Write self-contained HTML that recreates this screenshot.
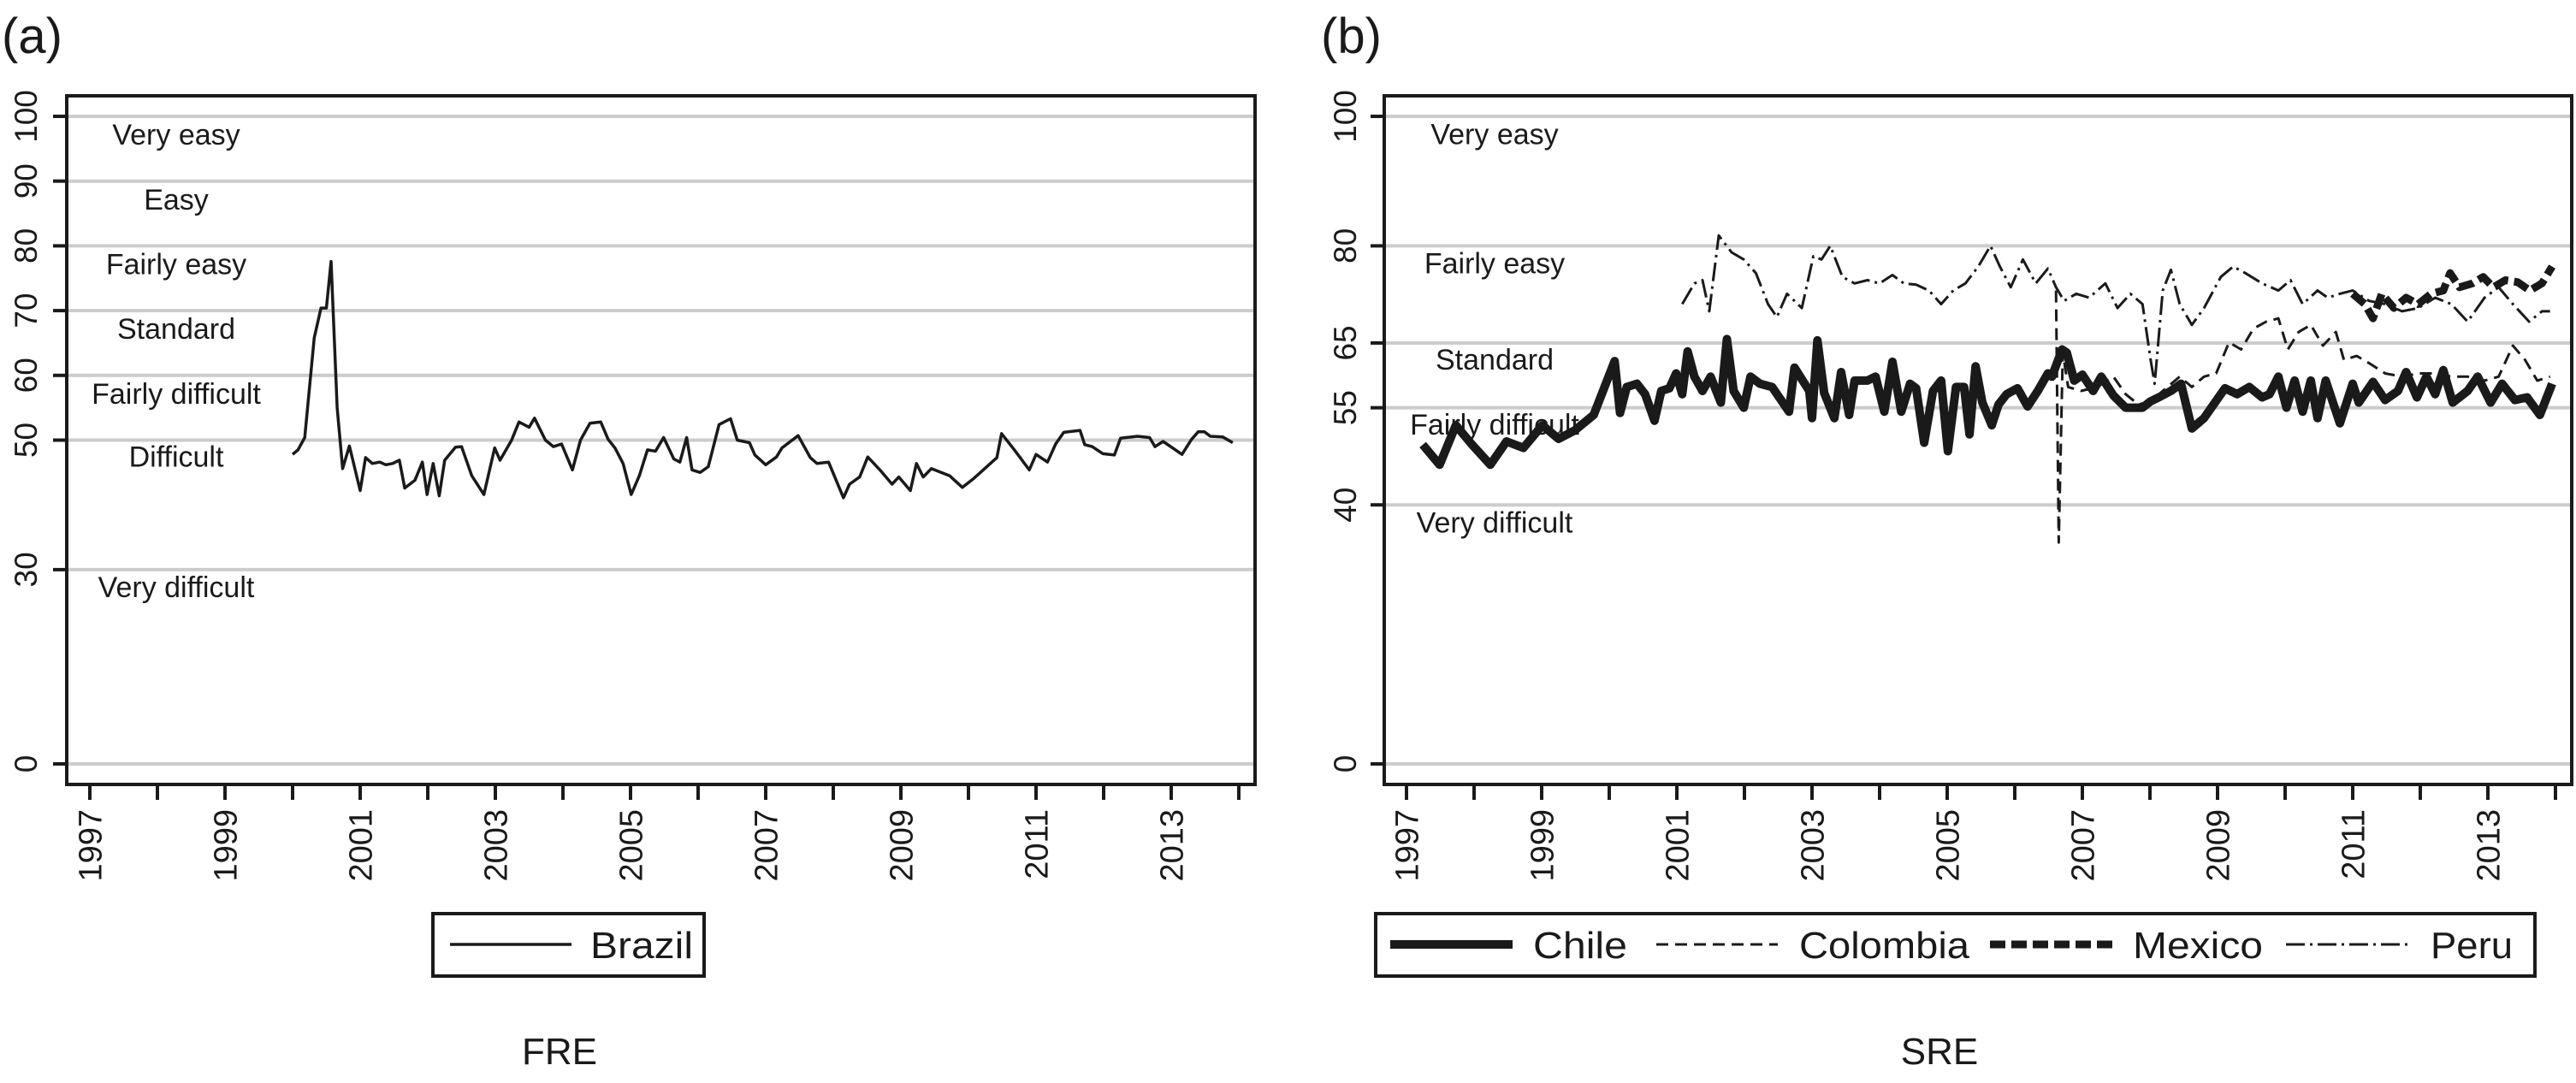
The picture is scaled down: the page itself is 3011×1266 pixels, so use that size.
<!DOCTYPE html>
<html><head><meta charset="utf-8"><style>
html,body{margin:0;padding:0;background:#fff;}
svg{display:block;font-family:"Liberation Sans",Arial,sans-serif;}
</style></head><body>
<svg id="chart" width="3011" height="1266" viewBox="0 0 3011 1266" xmlns="http://www.w3.org/2000/svg"></svg>
<script>
// ---- data ----
const brazilYears = [2000.00,2000.08,2000.18,2000.32,2000.42,2000.50,2000.57,2000.66,2000.74,2000.84,2001.00,2001.08,2001.18,2001.29,2001.38,2001.48,2001.58,2001.66,2001.81,2001.92,2001.99,2002.08,2002.17,2002.25,2002.41,2002.50,2002.65,2002.83,2002.99,2003.07,2003.24,2003.35,2003.50,2003.58,2003.74,2003.86,2003.98,2004.14,2004.26,2004.40,2004.56,2004.67,2004.77,2004.89,2005.01,2005.13,2005.25,2005.37,2005.49,2005.64,2005.73,2005.83,2005.91,2006.03,2006.15,2006.31,2006.48,2006.58,2006.76,2006.84,2007.00,2007.16,2007.24,2007.48,2007.66,2007.76,2007.93,2008.15,2008.24,2008.39,2008.51,2008.69,2008.87,2008.97,2009.14,2009.23,2009.33,2009.45,2009.72,2009.91,2010.08,2010.42,2010.49,2010.68,2010.90,2011.00,2011.17,2011.29,2011.41,2011.65,2011.72,2011.83,2011.99,2012.16,2012.25,2012.50,2012.68,2012.76,2012.88,2013.16,2013.30,2013.40,2013.49,2013.58,2013.76,2013.91];
const brazilValues = [47.8,48.5,50.4,65.8,70.4,70.4,77.6,55,45.6,49.1,42.2,47.3,46.4,46.6,46.2,46.4,46.9,42.6,43.8,46.6,41.6,46.4,41.4,46.9,48.9,49,44.5,41.6,48.8,46.9,50,52.8,52,53.4,50,49,49.4,45.4,50,52.6,52.8,50.1,48.8,46.4,41.6,44.5,48.5,48.3,50.4,47.1,46.6,50.4,45.4,45,45.9,52.4,53.3,50,49.6,47.7,46.2,47.4,48.8,50.7,47.3,46.4,46.6,41.1,43.2,44.3,47.4,45.4,43.2,44.3,42.2,46.4,44.3,45.6,44.5,42.7,44.1,47.3,51,48.5,45.4,47.8,46.6,49.4,51.2,51.5,49.3,49,47.9,47.7,50.3,50.6,50.4,49,49.8,47.8,50.1,51.3,51.3,50.6,50.5,49.6];

const chileYears = [1997.24,1997.49,1997.73,1997.97,1998.24,1998.48,1998.73,1999.01,1999.25,1999.49,1999.77,2000.08,2000.16,2000.26,2000.41,2000.53,2000.67,2000.77,2000.89,2000.99,2001.08,2001.16,2001.26,2001.38,2001.50,2001.65,2001.74,2001.84,2001.99,2002.09,2002.23,2002.41,2002.66,2002.74,2002.96,2003.00,2003.08,2003.18,2003.33,2003.43,2003.55,2003.63,2003.82,2003.94,2004.07,2004.19,2004.32,2004.45,2004.54,2004.66,2004.79,2004.91,2005.01,2005.13,2005.25,2005.33,2005.42,2005.52,2005.66,2005.76,2005.88,2006.04,2006.19,2006.34,2006.49,2006.55,2006.70,2006.77,2006.88,2007.00,2007.16,2007.28,2007.46,2007.64,2007.89,2008.01,2008.13,2008.31,2008.46,2008.62,2008.80,2009.11,2009.29,2009.47,2009.66,2009.77,2009.90,2010.02,2010.14,2010.26,2010.38,2010.48,2010.60,2010.81,2011.00,2011.09,2011.30,2011.48,2011.67,2011.79,2011.95,2012.09,2012.22,2012.34,2012.48,2012.70,2012.85,2013.04,2013.21,2013.40,2013.58,2013.77,2013.95];
const chileValues = [49.3,46.2,52.3,49.3,46.2,49.8,48.8,52.3,50.2,51.5,53.9,62.2,54.2,58.2,58.7,57.1,53,57.6,58,60.3,57.1,63.7,59.8,57.6,59.8,55.8,65.6,57.6,55,59.8,58.7,58.2,54.4,61.2,57.6,53.4,65.4,57.3,53.4,60.5,53.9,59.2,59.2,59.8,54.4,62.1,54.4,58.7,58,49.6,57.6,59.2,48.3,58.2,58.2,50.9,61.4,55.8,52.3,55.5,57.1,58,55.2,57.6,60.3,59.8,64,63.5,59.2,60.1,57.6,59.8,56.9,55,55,56,56.6,57.6,58.7,51.8,53.4,58,57.1,58.2,56.6,57.1,59.8,55,59.2,54.4,59.2,53.4,59.2,52.6,58.7,55.8,59,56.2,57.6,60.5,56.6,59.8,57.1,60.8,55.8,57.6,59.8,55.8,58.7,56.2,56.6,53.9,58.7];

const colombiaYears = [2006.61,2006.65,2006.71,2006.79,2006.98,2007.22,2007.46,2007.64,2007.83,2008.01,2008.19,2008.44,2008.62,2008.80,2008.98,2009.17,2009.35,2009.53,2009.72,2009.90,2010.04,2010.20,2010.38,2010.56,2010.75,2010.87,2011.06,2011.24,2011.48,2011.73,2011.97,2012.22,2012.46,2012.70,2012.95,2013.16,2013.37,2013.55,2013.73,2013.92];
const colombiaValues = [73.1,34.2,63.5,58.2,57.6,58.2,59.8,57.1,55.5,56,57.6,59.8,58.2,59.8,60.3,65.1,64,67.2,68.3,68.8,64,66.7,67.8,64.6,66.7,62.4,63,61.9,60.3,59.8,60.3,60.3,59.8,59.8,59.2,59.8,64.6,62.4,59.2,59.8];

const mexicoYears = [2011.00,2011.18,2011.30,2011.43,2011.61,2011.79,2011.97,2012.16,2012.34,2012.44,2012.58,2012.77,2012.93,2013.08,2013.26,2013.44,2013.62,2013.80,2013.95];
const mexicoValues = [72.6,71,68.8,72.6,70.4,72,71,72.6,73.1,75.8,73.6,74.2,75.2,73.6,74.7,74.4,73.1,74.2,76.8];

const peruYears = [2001.08,2001.26,2001.38,2001.48,2001.62,2001.81,2001.99,2002.17,2002.35,2002.48,2002.63,2002.85,2003.02,2003.14,2003.27,2003.45,2003.63,2003.82,2004.00,2004.19,2004.36,2004.54,2004.73,2004.91,2005.09,2005.27,2005.46,2005.64,2005.78,2005.94,2006.12,2006.31,2006.49,2006.61,2006.73,2006.91,2007.10,2007.34,2007.52,2007.71,2007.89,2008.01,2008.07,2008.19,2008.31,2008.44,2008.62,2008.80,2009.05,2009.23,2009.41,2009.66,2009.90,2010.08,2010.26,2010.48,2010.63,2010.81,2011.00,2011.24,2011.48,2011.73,2011.97,2012.22,2012.46,2012.70,2012.95,2013.16,2013.37,2013.61,2013.80,2013.92];
const peruValues = [71,74.2,74.7,69.9,81.6,79,77.9,75.8,71,69,72.6,70.4,78.4,77.9,80,75.2,74.2,74.7,74.2,75.5,74.2,74,73.1,71,73.1,74.2,76.8,80,76.8,73.6,77.9,74.2,76.5,73.6,71.5,72.6,72,74.2,70.4,72.6,71,62.4,58.7,73.1,76.3,71,67.8,70.4,75.2,76.8,75.8,74.2,73.1,74.7,71,73.1,72,72.6,73.1,71.5,71,69.9,70.4,72,71,68.3,72,73.6,71,68.3,69.9,69.9];

const yTicksA = [0,30,50,60,70,80,90,100];
const yTicksB = [0,40,55,65,80,100];
const xTickYears = [1997,1998,1999,2000,2001,2002,2003,2004,2005,2006,2007,2008,2009,2010,2011,2012,2013,2014];
const xLabelYears = [1997,1999,2001,2003,2005,2007,2009,2011,2013];
const catLabelsA = ["Very easy","Easy","Fairly easy","Standard","Fairly difficult","Difficult","Very difficult"];
const catValuesA = [97.2,87.2,77.2,67.2,57.2,47.5,27.3];
const catLabelsB = ["Very easy","Fairly easy","Standard","Fairly difficult","Very difficult"];
const catValuesB = [97.3,77.3,62.5,52.4,37.3];

// ---- layout ----
const svg = document.getElementById('chart');
const NS = 'http://www.w3.org/2000/svg';
function mk(tag, attrs, parent){
  const e = document.createElementNS(NS, tag);
  for (const k in attrs) e.setAttribute(k, attrs[k]);
  (parent||svg).appendChild(e); return e;
}
const Y0 = 893, YPX = 7.57;
function yScale(v){ return Y0 - v*YPX; }
function makeX(x1997){ return y => x1997 + (y-1997)*79; }

function panel(p){
  const g = mk('g', {});
  
  
  const xs = makeX(p.x1997);
  p.yTicks.forEach(v=>{
    const l = mk('line',{x1:p.left+2,x2:p.right-2,y1:yScale(v),y2:yScale(v),stroke:'#cccccc','stroke-width':4},g);
    
    
    mk('line',{x1:p.left-16,x2:p.left,y1:yScale(v),y2:yScale(v),stroke:'#1a1a1a','stroke-width':4},g);
    const t = mk('text',{x:p.ylabX,y:yScale(v),'font-size':37,'text-anchor':'middle',fill:'#1a1a1a',transform:`rotate(-90 ${p.ylabX} ${yScale(v)})`,dy:'0.35em'},g);
    t.textContent = v;
    
    
  });
  xTickYears.forEach(yr=>{
    mk('line',{x1:xs(yr),x2:xs(yr),y1:917,y2:935,stroke:'#1a1a1a','stroke-width':4},g);
  });
  xLabelYears.forEach(yr=>{
    const x = xs(yr);
    const t = mk('text',{x:x,y:946,'font-size':38,'text-anchor':'end',fill:'#1a1a1a',transform:`rotate(-90 ${x} 946)`,dy:'0.36em'},g);
    t.textContent = yr;
    
    
  });
  p.cats.forEach((c,i)=>{
    const t = mk('text',{x:p.catX,y:yScale(p.catVals[i]),'font-size':34,'text-anchor':'middle',fill:'#1a1a1a',dy:'0.35em'},g);
    t.textContent = c;
    
    
  });
  p.series.forEach(s=>{
    const pts = s.years.map((yr,i)=> xs(yr).toFixed(1)+','+yScale(s.vals[i]).toFixed(1)).join(' ');
    const pl = mk('polyline',{points:pts,fill:'none',stroke:'#1a1a1a','stroke-width':s.w,'stroke-dasharray':s.dash||'none','stroke-linejoin':'round','stroke-linecap':'butt'},g);
    
    
  });
  const f = mk('rect',{x:p.left,y:112,width:p.right-p.left,height:917-112,fill:'none',stroke:'#1a1a1a','stroke-width':4},g);
  
  
  return xs;
}

panel({name:'panel-a', left:78, right:1467, x1997:105, yTicks:yTicksA, ylabX:30,
  cats:catLabelsA, catVals:catValuesA, catX:206,
  series:[{name:'brazil-line',years:brazilYears,vals:brazilValues,w:3.5}]});
panel({name:'panel-b', left:1618, right:3006, x1997:1644, yTicks:yTicksB, ylabX:1572,
  cats:catLabelsB, catVals:catValuesB, catX:1747,
  series:[
    {name:'peru-line',years:peruYears,vals:peruValues,w:3,dash:'22 6 3 6'},
    {name:'colombia-line',years:colombiaYears,vals:colombiaValues,w:3,dash:'14 8'},
    {name:'mexico-line',years:mexicoYears,vals:mexicoValues,w:9,dash:'18 7'},
    {name:'chile-line',years:chileYears,vals:chileValues,w:10}
  ]});

function txt(x,y,s,size,name,anchor,len){
  const t = mk('text',{x:x,y:y,'font-size':size,'text-anchor':anchor||'start',fill:'#1a1a1a'});
  if(len){ t.setAttribute('textLength',len); t.setAttribute('lengthAdjust','spacingAndGlyphs'); }
  t.textContent = s;
  
  
  return t;
}
txt(2,62,'(a)',58,'panel-a-label');
txt(1544,62,'(b)',58,'panel-b-label');
txt(654,1244,'FRE',44,'panel-a-title','middle');
txt(2267,1244,'SRE',44,'panel-b-title','middle');

const la = mk('g',{});


mk('rect',{x:506,y:1068,width:317,height:73,fill:'#fff',stroke:'#1a1a1a','stroke-width':4},la);
mk('line',{x1:526,x2:668,y1:1104,y2:1104,stroke:'#1a1a1a','stroke-width':3.5},la);
txt(690,1120,'Brazil',44,'legend-entry-brazil','start',120);

const lb = mk('g',{});


mk('rect',{x:1608,y:1068,width:1355,height:73,fill:'#fff',stroke:'#1a1a1a','stroke-width':4},lb);
mk('line',{x1:1625,x2:1768,y1:1104,y2:1104,stroke:'#1a1a1a','stroke-width':10},lb);
txt(1792,1120,'Chile',44,'legend-entry-chile','start',110);
mk('line',{x1:1936,x2:2078,y1:1104,y2:1104,stroke:'#1a1a1a','stroke-width':3,'stroke-dasharray':'14 8'},lb);
txt(2103,1120,'Colombia',44,'legend-entry-colombia','start',199);
mk('line',{x1:2326,x2:2469,y1:1104,y2:1104,stroke:'#1a1a1a','stroke-width':9,'stroke-dasharray':'18 7'},lb);
txt(2493,1120,'Mexico',44,'legend-entry-mexico','start',152);
mk('line',{x1:2672,x2:2817,y1:1104,y2:1104,stroke:'#1a1a1a','stroke-width':3,'stroke-dasharray':'22 6 3 6'},lb);
txt(2841,1120,'Peru',44,'legend-entry-peru','start',96);
</script>
</body></html>
